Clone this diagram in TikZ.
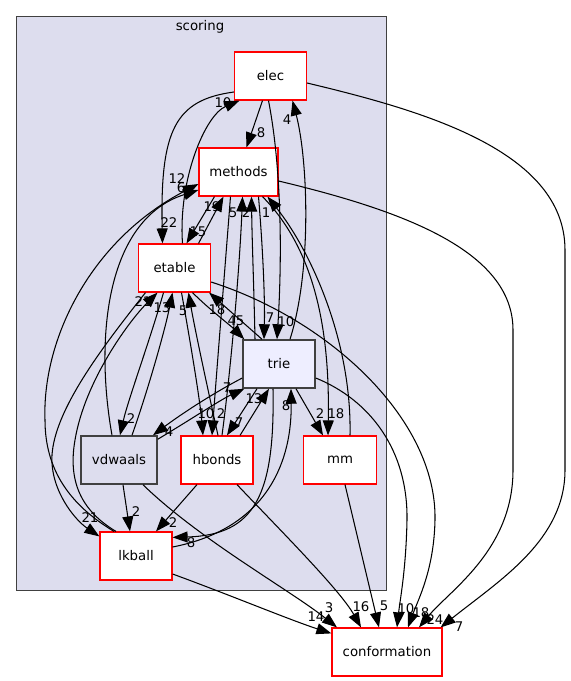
\documentclass[tikz,border=0pt]{standalone}
\usepackage{fontspec}
\setmainfont{DejaVu Sans}
\usetikzlibrary{arrows.meta}
\definecolor{clusterbg}{HTML}{DDDDEE}
\definecolor{triebg}{HTML}{EEEEFF}
\definecolor{darkborder}{HTML}{404040}
\definecolor{dirred}{HTML}{FF0000}
\begin{document}
\begin{tikzpicture}[x=1pt,y=-1pt,
  every node/.style={font=\fontsize{13.3}{16}\selectfont},
  dirbox/.style={draw=dirred, line width=1.2pt, fill=white, minimum height=48pt, inner sep=0pt, minimum width=#1},
  graybox/.style={dirbox=#1, draw=darkborder, line width=1.5pt},
  edge/.style={line width=1.05pt, -{Triangle[length=15pt,width=11pt]}},
  lbl/.style={inner sep=0pt}
]
\useasboundingbox (0,0) rectangle (571,681);
% cluster
\node[draw=darkborder, fill=clusterbg, line width=1pt, minimum width=370.5pt, minimum height=574pt, inner sep=0pt] (scoring) at (201.25,303) {};
\node (scoringlbl) at (200,27) {scoring};
% nodes
\node[dirbox=72pt] (elec) at (270.5,76) {elec};
\node[dirbox=79pt] (methods) at (238.5,172) {methods};
\node[dirbox=72pt] (etable) at (174.5,268) {etable};
\node[graybox=72pt, fill=triebg] (trie) at (279,364) {trie};
\node[graybox=76pt, fill=clusterbg] (vdwaals) at (119,460) {vdwaals};
\node[dirbox=72pt] (hbonds) at (217,460) {hbonds};
\node[dirbox=73pt] (mm) at (340,460) {mm};
\node[dirbox=72pt] (lkball) at (136,556) {lkball};
\node[dirbox=110pt] (conformation) at (387,652) {conformation};
% edges
\draw[edge] ([xshift=-8]elec.south) -- ([xshift=8]methods.north);
\draw[edge] ([yshift=-16]elec.west) .. controls (175,100) and (160,130) .. ([xshift=-12]etable.north);
\draw[edge] ([xshift=-2]elec.south) .. controls (282,170) and (282,260) .. ([xshift=-2]trie.north);
\draw[edge] ([xshift=11]trie.north) .. controls (312,270) and (308,160) .. ([xshift=22]elec.south);
\draw[edge] ([xshift=8]etable.north) .. controls (178,180) and (205,115) .. ([xshift=-31]elec.south);
\draw[edge] ([xshift=-24]methods.south) -- ([xshift=12]etable.north);
\draw[edge] ([xshift=24]etable.north) -- ([xshift=-15]methods.south);
\draw[edge] ([xshift=-22]lkball.north) .. controls (70,505) and (45,470) .. (45,420) .. controls (42,340) and (90,240) .. ([yshift=-12]methods.west);
\draw[edge] ([xshift=-7]vdwaals.north) .. controls (95,340) and (105,220) .. ([yshift=-18]methods.west);
\draw[edge] ([xshift=-29]etable.south) .. controls (100,350) and (55,410) .. (52,455) .. controls (50,490) and (75,520) .. ([yshift=-5]lkball.north west);
\draw[edge] ([xshift=-20]lkball.north) .. controls (80,510) and (68,480) .. (75,440) .. controls (85,380) and (130,320) .. ([xshift=-17]etable.south);
\draw[edge] ([xshift=-11]etable.south) .. controls (150,340) and (128,400) .. ([xshift=1]vdwaals.north);
\draw[edge] ([xshift=13]vdwaals.north) .. controls (148,390) and (165,330) .. ([xshift=-2]etable.south);
\draw[edge] ([xshift=7]etable.south) .. controls (190,340) and (200,400) .. ([xshift=-14]hbonds.north);
\draw[edge] ([xshift=1]hbonds.north) .. controls (208,390) and (195,330) .. ([xshift=14]etable.south);
\draw[edge] ([xshift=-8]methods.south) .. controls (224,280) and (216,380) .. ([xshift=-5]hbonds.north);
\draw[edge] ([xshift=5]hbonds.north) .. controls (232,360) and (240,260) .. ([xshift=4]methods.south);
\draw[edge] ([xshift=-24]trie.north) .. controls (254,290) and (252,240) .. ([xshift=13]methods.south);
\draw[edge] ([xshift=20]methods.south) .. controls (263,250) and (265,300) .. ([xshift=-15]trie.north);
\draw[edge] ([xshift=10]mm.north) .. controls (352,340) and (310,250) .. ([xshift=29]methods.south);
\draw[edge] ([xshift=24]methods.south) .. controls (315,250) and (330,330) .. ([xshift=-12]mm.north);
\draw[edge] ([yshift=-9]methods.east) .. controls (400,210) and (513,250) .. (513,330) -- (513,470) .. controls (513,550) and (450,590) .. ([xshift=32]conformation.north);
\draw[edge] ([yshift=-7]elec.east) .. controls (420,110) and (565,150) .. (565,250) -- (565,470) .. controls (565,540) and (500,580) .. ([xshift=-2]conformation.north east);
\draw[edge] ([yshift=-14]etable.east) .. controls (330,320) and (437,420) .. (435,520) .. controls (434,570) and (418,600) .. ([xshift=21]conformation.north);
\draw[edge] ([yshift=-14]trie.east) .. controls (370,400) and (408,450) .. (407,520) .. controls (406,570) and (400,600) .. ([xshift=10]conformation.north);
\draw[edge] ([xshift=5]mm.south) -- ([xshift=-8]conformation.north);
\draw[edge] ([xshift=20]hbonds.south) .. controls (280,530) and (340,590) .. ([xshift=-26]conformation.north);
\draw[edge] ([xshift=24]vdwaals.south) .. controls (200,540) and (290,590) .. ([xshift=-50]conformation.north);
\draw[edge] ([yshift=-18]lkball.east) .. controls (230,595) and (290,620) .. ([yshift=-6]conformation.north west);
\draw[edge] ([yshift=-14]trie.west) .. controls (210,395) and (180,415) .. ([xshift=34]vdwaals.north);
\draw[edge] ([yshift=-4]vdwaals.north east) .. controls (190,420) and (220,400) .. ([xshift=2]trie.south west);
\draw[edge] ([xshift=-22]trie.south) -- ([xshift=10]hbonds.north);
\draw[edge] ([xshift=23]hbonds.north) -- ([xshift=-10]trie.south);
\draw[edge] ([xshift=-6]trie.south) .. controls (275,495) and (255,535) .. ([yshift=-6]lkball.north east);
\draw[edge] ([yshift=9]lkball.east) .. controls (260,530) and (292,470) .. ([xshift=12]trie.south);
\draw[edge] ([xshift=17]trie.south) -- ([xshift=-17]mm.north);
\draw[edge] ([xshift=18]etable.south) .. controls (210,310) and (230,325) .. ([xshift=2]trie.north west);
\draw[edge] ([xshift=-17]trie.north) -- ([xshift=-2]etable.south east);
\draw[edge] ([xshift=4]vdwaals.south) -- ([xshift=-6]lkball.north);
\draw[edge] ([xshift=-20]hbonds.south) -- ([xshift=20]lkball.north);
% labels
\node[lbl] (l1) at (261,133) {8};
\node[lbl] (l2) at (169,223) {22};
\node[lbl] (l3) at (286,322) {10};
\node[lbl] (l4) at (287,120) {4};
\node[lbl] (l5) at (223,103) {10};
\node[lbl] (l6) at (198,232) {15};
\node[lbl] (l7) at (212,207) {19};
\node[lbl] (l8) at (177,179) {12};
\node[lbl] (l9) at (181,188) {6};
\node[lbl] (l10) at (90,518) {21};
\node[lbl] (l11) at (143,302) {21};
\node[lbl] (l12) at (131,419) {2};
\node[lbl] (l13) at (162,308) {13};
\node[lbl] (l14) at (206,414) {10};
\node[lbl] (l15) at (183,311) {5};
\node[lbl] (l16) at (221,414) {2};
\node[lbl] (l17) at (233,213) {5};
\node[lbl] (l18) at (246,213) {2};
\node[lbl] (l19) at (270,318) {7};
\node[lbl] (l20) at (266,213) {1};
\node[lbl] (l21) at (336,414) {18};
\node[lbl] (l22) at (435,620) {24};
\node[lbl] (l23) at (459,627) {7};
\node[lbl] (l24) at (421,613) {18};
\node[lbl] (l25) at (406,609) {10};
\node[lbl] (l26) at (384,606) {5};
\node[lbl] (l27) at (361,607) {16};
\node[lbl] (l28) at (329,608) {3};
\node[lbl] (l29) at (316,617) {14};
\node[lbl] (l30) at (169,432) {4};
\node[lbl] (l31) at (227,388) {7};
\node[lbl] (l32) at (239,423) {7};
\node[lbl] (l33) at (254,399) {13};
\node[lbl] (l34) at (191,543) {8};
\node[lbl] (l35) at (286,406) {8};
\node[lbl] (l36) at (320,414) {2};
\node[lbl] (l37) at (236,321) {45};
\node[lbl] (l38) at (217,310) {18};
\node[lbl] (l39) at (136,512) {2};
\node[lbl] (l40) at (173,523) {2};
\end{tikzpicture}
\end{document}
